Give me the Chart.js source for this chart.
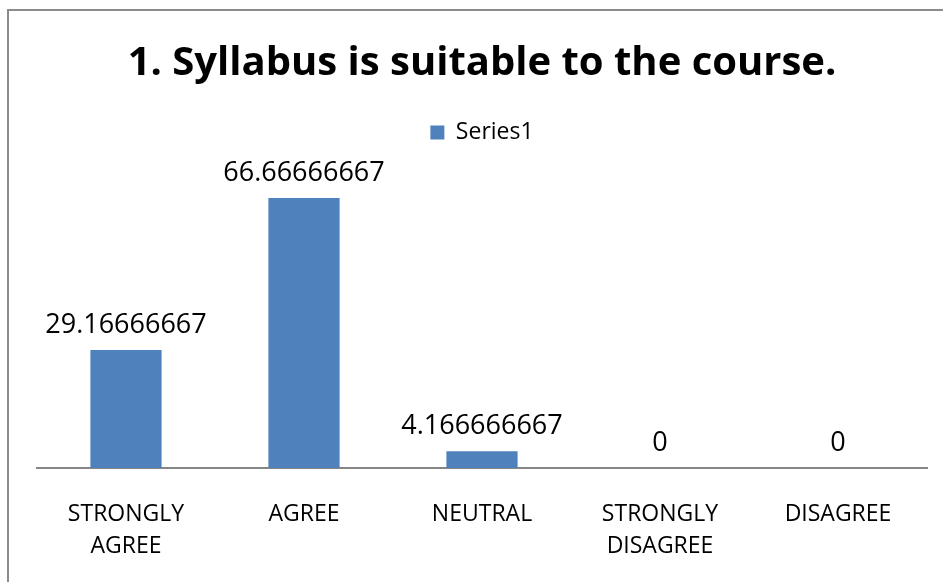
<!DOCTYPE html>
<html>
<head>
<meta charset="utf-8">
<script src="https://cdn.jsdelivr.net/npm/chart.js@4.4.1/dist/chart.umd.min.js"></script>
<style>
html,body{margin:0;padding:0;background:#fff;}
#wrap{width:943px;height:582px;position:relative;}
</style>
</head>
<body>
<div id="wrap"><canvas id="c" width="943" height="582"></canvas></div>
<script>
const titleText = "1. Syllabus is suitable to the course.";
const seriesName = "Series1";
const categories = [["STRONGLY","AGREE"], "AGREE", "NEUTRAL", ["STRONGLY","DISAGREE"], "DISAGREE"];
const values = [29.16666667, 66.66666667, 4.166666667, 0, 0];
const yMin = 0;
const yMax = 80;

const FONT = "'Open Sans', sans-serif";

const framePlugin = {
  id: 'frame',
  beforeDraw(chart) {
    const ctx = chart.ctx;
    ctx.save();
    ctx.fillStyle = '#fff';
    ctx.fillRect(0, 0, chart.width, chart.height);
    ctx.strokeStyle = '#8c8c8c';
    ctx.lineWidth = 2;
    ctx.beginPath();
    ctx.moveTo(8, chart.height + 2);
    ctx.lineTo(8, 10);
    ctx.lineTo(chart.width + 2, 10);
    ctx.stroke();
    ctx.restore();
  }
};

// trim the fixed extra space Chart.js leaves under a top legend
const legendTrimPlugin = {
  id: 'legendTrim',
  beforeLayout(chart) {
    const lg = chart.legend;
    if (lg && !lg._trimmed) {
      const origFit = lg.fit.bind(lg);
      lg.fit = function () { origFit(); this.height = Math.max(0, this.height - 10); };
      lg._trimmed = true;
    }
  }
};

const labelPlugin = {
  id: 'barLabels',
  afterDatasetsDraw(chart) {
    const ctx = chart.ctx;
    const meta = chart.getDatasetMeta(0);
    ctx.save();
    ctx.font = "27px " + FONT;
    ctx.fillStyle = '#000';
    ctx.textAlign = 'center';
    ctx.textBaseline = 'alphabetic';
    meta.data.forEach((bar, i) => {
      ctx.fillText(String(chart.data.datasets[0].data[i]), bar.x, bar.y - 17);
    });
    ctx.restore();
  }
};

new Chart(document.getElementById('c'), {
  type: 'bar',
  data: {
    labels: categories,
    datasets: [{
      label: seriesName,
      data: values,
      backgroundColor: '#4F81BD',
      borderWidth: 0,
      barPercentage: 0.4,
      categoryPercentage: 1.0
    }]
  },
  options: {
    responsive: false,
    animation: false,
    layout: { padding: { left: 37, right: 16, top: 30, bottom: 0 } },
    plugins: {
      title: {
        display: true,
        text: titleText,
        color: '#000',
        font: { family: FONT, size: 40, weight: 'bold' },
        padding: { top: 10, bottom: 32 }
      },
      legend: {
        display: true,
        position: 'top',
        labels: {
          color: '#000',
          font: { family: FONT, size: 23 },
          boxWidth: 14,
          boxHeight: 14,
          padding: 1
        }
      },
      tooltip: { enabled: false }
    },
    scales: {
      x: {
        grid: { display: false },
        border: { display: true, color: '#868686', width: 2 },
        ticks: {
          color: '#000',
          font: { family: FONT, size: 23, lineHeight: 1.4 },
          padding: 22,
          maxRotation: 0,
          autoSkip: false
        },
        afterFit(scale) { scale.height = 114; }
      },
      y: {
        display: false,
        min: yMin,
        max: yMax
      }
    }
  },
  plugins: [framePlugin, legendTrimPlugin, labelPlugin]
});
</script>
</body>
</html>
